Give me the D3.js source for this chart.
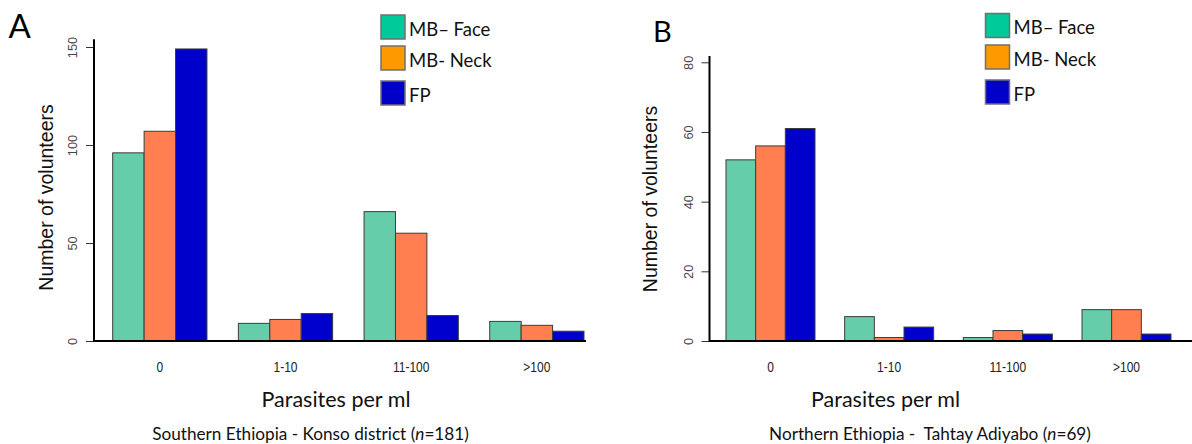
<!DOCTYPE html>
<html>
<head>
<meta charset="utf-8">
<script src="https://cdn.jsdelivr.net/npm/d3@7"></script>
<style>
  html, body { margin: 0; padding: 0; background: #fff; }
  svg { display: block; }
</style>
</head>
<body>
<svg id="chart" width="1192" height="444"></svg>
<script>
// ---- data ----
const categories = ["0", "1-10", "11-100", ">100"];
const seriesNames = ["MB\u2013 Face", "MB- Neck", "FP"];
const konsoFace = [96, 9, 66, 10];
const konsoNeck = [107, 11, 55, 8];
const konsoFP = [149, 14, 13, 5];
const tahtayFace = [52, 7, 1, 9];
const tahtayNeck = [56, 1, 3, 9];
const tahtayFP = [61, 4, 2, 2];
const ticksA = [0, 50, 100, 150];
const ticksB = [0, 20, 40, 60, 80];
const barColors = ["#66CDAA", "#FF7F50", "#0000CD"];
const legendColors = ["#00C99A", "#FF9900", "#0000C8"];

const svg = d3.select("#chart");
const serifless = "'Liberation Sans', Arial, sans-serif";
const overlayFont = "Lato, 'Open Sans', sans-serif";

function panel(cfg) {
  const g = svg.append("g");
  const y = d3.scaleLinear().domain([0, cfg.yTop]).range([341, cfg.yTopPx]);
  const unit = (cfg.barsRight - cfg.barsLeft) / 15;
  const x = d3.scaleBand().domain(categories)
    .range([cfg.barsLeft - unit / 2, cfg.barsRight + unit / 2])
    .paddingInner(0.25).paddingOuter(0.125);
  const xs = d3.scaleBand().domain(seriesNames).range([0, x.bandwidth()]);

  const data = categories.map((c, i) => ({
    cat: c,
    vals: cfg.series.map((s, j) => ({ name: seriesNames[j], v: s[i], color: barColors[j] }))
  }));

  // bars
  const grp = g.selectAll(".grp").data(data).join("g")
    .attr("transform", d => `translate(${x(d.cat)},0)`);
  grp.selectAll("rect").data(d => d.vals).join("rect")
    .attr("x", d => xs(d.name))
    .attr("y", d => y(d.v))
    .attr("width", xs.bandwidth())
    .attr("height", d => y(0) - y(d.v))
    .attr("fill", d => d.color)
    .attr("stroke", "#3c3c3c")
    .attr("stroke-width", 1);

  // y axis ticks
  const ax = g.append("g").attr("transform", `translate(${cfg.axisX},0)`)
    .call(d3.axisLeft(y).tickValues(cfg.ticks).tickSize(8).tickFormat(d3.format("d")));
  ax.select(".domain").remove();
  ax.selectAll(".tick line").attr("stroke", "#333").attr("stroke-width", 1);
  ax.selectAll(".tick text")
    .attr("transform", "rotate(-90)")
    .attr("x", 0).attr("y", -17).attr("dy", 0)
    .attr("text-anchor", "middle")
    .attr("fill", "#444")
    .style("font-family", serifless)
    .style("font-size", "12.8px");

  // axis lines
  g.append("line")
    .attr("x1", cfg.axisX).attr("x2", cfg.axisX)
    .attr("y1", y(0) + 1).attr("y2", y(cfg.axisMax))
    .attr("stroke", "#000").attr("stroke-width", 2);
  g.append("line")
    .attr("x1", cfg.axisX).attr("x2", cfg.baseRight)
    .attr("y1", y(0)).attr("y2", y(0))
    .attr("stroke", "#000").attr("stroke-width", 2);

  // category labels
  g.selectAll(".cat").data(categories).join("text")
    .attr("transform", d => `translate(${x(d) + x.bandwidth() / 2},371.5) scale(0.86,1)`)
    .attr("text-anchor", "middle")
    .attr("fill", "#222")
    .style("font-family", serifless)
    .style("font-size", "14px")
    .text(d => d);

  // y title
  g.append("text")
    .attr("transform", `translate(${cfg.yTitleX},${cfg.yTitleY}) rotate(-90)`)
    .attr("text-anchor", "middle")
    .attr("fill", "#111")
    .style("font-family", serifless)
    .style("font-size", "19.5px")
    .text("Number of volunteers");

  // x title
  g.append("text")
    .attr("x", cfg.xTitleX).attr("y", 406.5)
    .attr("text-anchor", "middle")
    .attr("fill", "#111")
    .style("font-family", overlayFont)
    .style("font-size", "21.5px")
    .text("Parasites per ml");

  // subtitle
  const st = g.append("text")
    .attr("x", cfg.subX).attr("y", 439.5)
    .attr("text-anchor", "middle")
    .attr("fill", "#111")
    .style("font-family", overlayFont)
    .style("font-size", "17.2px")
    .style("white-space", "pre");
  st.append("tspan").text(cfg.subtitle + " (");
  st.append("tspan").style("font-style", "italic").text("n");
  st.append("tspan").text("=" + cfg.n + ")");

  // panel letter
  g.append("text")
    .attr("x", cfg.letterX).attr("y", cfg.letterY)
    .attr("fill", "#000")
    .style("font-family", overlayFont)
    .style("font-size", cfg.letterSize + "px")
    .text(cfg.letter);

  // legend
  const lg = g.selectAll(".lg").data(seriesNames).join("g")
    .attr("transform", (d, i) => `translate(${cfg.legX},${cfg.legY[i]})`);
  lg.append("rect")
    .attr("x", 0).attr("y", 0).attr("width", 24).attr("height", 24)
    .attr("fill", (d, i) => legendColors[i])
    .attr("stroke", "#707070").attr("stroke-width", 1.5);
  lg.append("text")
    .attr("x", 28).attr("y", 20.5)
    .attr("fill", "#111")
    .style("font-family", overlayFont)
    .style("font-size", "18.5px")
    .text(d => d);
}

panel({
  series: [konsoFace, konsoNeck, konsoFP],
  ticks: ticksA, yTop: 150, yTopPx: 47, axisMax: 154,
  barsLeft: 112.7, barsRight: 584, axisX: 94, baseRight: 586,
  yTitleX: 53, yTitleY: 197.5, xTitleX: 336, subX: 310.5,
  subtitle: "Southern Ethiopia - Konso district", n: 181,
  letter: "A", letterX: 8.5, letterY: 37.5, letterSize: 33,
  legX: 381, legY: [15, 46, 81]
});

panel({
  series: [tahtayFace, tahtayNeck, tahtayFP],
  ticks: ticksB, yTop: 80, yTopPx: 62.3, axisMax: 81.8,
  barsLeft: 726, barsRight: 1171, axisX: 709.5, baseRight: 1192,
  yTitleX: 657, yTitleY: 199, xTitleX: 885.5, subX: 930,
  subtitle: "Northern Ethiopia -  Tahtay Adiyabo", n: 69,
  letter: "B", letterX: 653, letterY: 41.7, letterSize: 29,
  legX: 985.5, legY: [13.5, 45, 80]
});
</script>
</body>
</html>
